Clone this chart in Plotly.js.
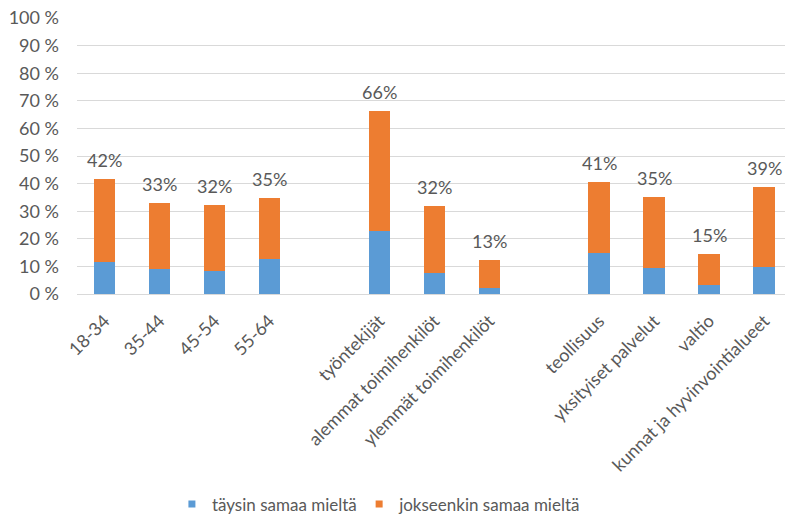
<!DOCTYPE html>
<html>
<head>
<meta charset="utf-8">
<script src="https://cdn.plot.ly/plotly-3.0.1.min.js"></script>
<style>html,body{margin:0;padding:0;background:#fff;}#chart{width:785px;height:515px;}</style>
</head>
<body>
<div id="chart"></div>
<script>
var categories = ['18-34','35-44','45-54','55-64',' ','työntekijät','alemmat toimihenkilöt','ylemmät toimihenkilöt','  ','teollisuus','yksityiset palvelut','valtio','kunnat ja hyvinvointialueet'];
var fullyAgree = [11.7, 8.9, 8.3, 12.6, null, 22.9, 7.5, 2.1, null, 14.7, 9.5, 3.1, 9.9];
var partlyAgree = [29.9, 24.1, 23.9, 22.2, null, 43.3, 24.3, 10.3, null, 26.0, 25.6, 11.3, 29.0];
var totalLabels = ['42%','33%','32%','35%','','66%','32%','13%','','41%','35%','15%','39%'];
var seriesNames = ['täysin samaa mieltä','jokseenkin samaa mieltä'];
var seriesColors = ['#5B9BD5','#ED7D31'];
var yTickVals = [0,10,20,30,40,50,60,70,80,90,100];
var yTickText = ['0 %','10 %','20 %','30 %','40 %','50 %','60 %','70 %','80 %','90 %','100 %'];

var FONT = 'Lato, "Open Sans", sans-serif';
var GREY = '#595959';

var traces = [
  {type:'bar', name:seriesNames[0], x:categories, y:fullyAgree, marker:{color:seriesColors[0]}, width:0.39, hoverinfo:'skip', showlegend:false},
  {type:'bar', name:seriesNames[1], x:categories, y:partlyAgree, marker:{color:seriesColors[1]}, width:0.39, hoverinfo:'skip', showlegend:false},
  {type:'scatter', mode:'markers', name:seriesNames[0], x:[null], y:[null], marker:{symbol:'square', size:7, color:seriesColors[0]}, showlegend:true, legend:'legend'},
  {type:'scatter', mode:'markers', name:seriesNames[1], x:[null], y:[null], marker:{symbol:'square', size:7, color:seriesColors[1]}, showlegend:true, legend:'legend2'}
];

var annotations = [];
categories.forEach(function(c, i){
  if (totalLabels[i] === '') return;
  annotations.push({
    x: c, y: fullyAgree[i] + partlyAgree[i], xref:'x', yref:'y',
    text: totalLabels[i], showarrow:false, yanchor:'bottom', yshift:6,
    font:{family:FONT, size:18, color:GREY}
  });
});

var legendBase = {orientation:'h', xref:'container', yref:'container', xanchor:'left', y:0.0204, yanchor:'middle',
  font:{family:FONT, size:17, color:GREY}, bgcolor:'rgba(0,0,0,0)'};

var layout = {
  width:785, height:515,
  margin:{l:77, r:0, t:18, b:221},
  barmode:'stack',
  bargap:0.61,
  paper_bgcolor:'#fff', plot_bgcolor:'#fff',
  font:{family:FONT, color:GREY},
  xaxis:{
    type:'category', categoryorder:'array', categoryarray:categories,
    range:[-0.5, 12.38], tickangle:-45, ticks:'', showgrid:false,
    showline:false, zeroline:false, ticklabelstandoff:12, automargin:false,
    tickfont:{family:FONT, size:18, color:GREY}, fixedrange:true
  },
  yaxis:{
    range:[0,100], tickvals:yTickVals, ticktext:yTickText,
    showgrid:true, gridcolor:'#d9d9d9', gridwidth:1, zeroline:true, zerolinecolor:'#d9d9d9', zerolinewidth:1,
    showline:false, ticks:'', ticklabelstandoff:17, automargin:false,
    tickfont:{family:FONT, size:18, color:GREY}, fixedrange:true
  },
  showlegend:true,
  legend:Object.assign({}, legendBase, {x:0.219}),
  legend2:Object.assign({}, legendBase, {x:0.4575}),
  annotations: annotations
};

Plotly.newPlot('chart', traces, layout, {displayModeBar:false, staticPlot:true});
</script>
</body>
</html>
